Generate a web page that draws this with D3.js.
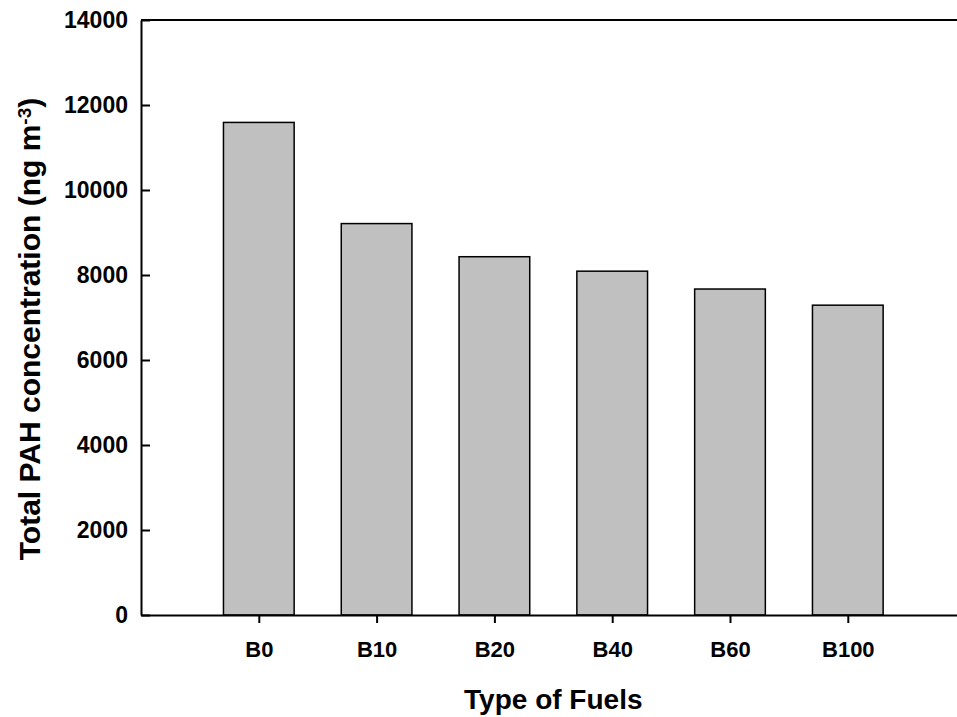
<!DOCTYPE html>
<html>
<head>
<meta charset="utf-8">
<script src="https://cdn.jsdelivr.net/npm/d3@7"></script>
<style>
  body { margin: 0; background: #fff; }
  svg { display: block; font-family: "Liberation Sans", Arial, sans-serif; font-weight: bold; }
  .axis path, .axis line { stroke: #000; stroke-width: 2; }
  .axis text { fill: #000; }
</style>
</head>
<body>
<div id="chart"></div>
<script>
// Fuel blends and total PAH (ng m-3)
const fuels = ['B0', 'B10', 'B20', 'B40', 'B60', 'B100'];
const pah = [11590, 9210, 8430, 8090, 7670, 7290];
const yTicks = [0, 2000, 4000, 6000, 8000, 10000, 12000, 14000];

function drawChart() {
    const W = 957, H = 717;
    const left = 141, top = 20, bottom = 615;

    const svg = d3.select('#chart')
        .append('svg')
        .attr('width', W)
        .attr('height', H);

    // bars sit at 1..6, axis runs 0..7 (right end runs off the page)
    const x = d3.scaleLinear()
        .domain([0, 7])
        .range([left, left + 7 * 117.8]);

    const y = d3.scaleLinear()
        .domain([0, 14000])
        .range([bottom, top]);

    const barW = 0.6;
    const rows = fuels.map((f, i) => ({ fuel: f, pos: i + 1, value: pah[i] }));

    svg.selectAll('.bar')
        .data(rows)
        .enter()
        .append('rect')
        .attr('class', 'bar')
        .attr('x', d => x(d.pos - barW / 2))
        .attr('width', d => x(d.pos + barW / 2) - x(d.pos - barW / 2))
        .attr('y', d => y(d.value))
        .attr('height', d => y(0) - y(d.value))
        .attr('fill', '#c0c0c0')
        .attr('stroke', '#000')
        .attr('stroke-width', 1.5);

    // top frame line
    svg.append('line')
        .attr('x1', left).attr('x2', W + 10)
        .attr('y1', top).attr('y2', top)
        .attr('stroke', '#000')
        .attr('stroke-width', 2);

    // y axis, ticks pointing inward
    svg.append('g')
        .attr('class', 'axis')
        .attr('transform', `translate(${left},0)`)
        .call(d3.axisLeft(y)
            .tickValues(yTicks)
            .tickSize(-9)
            .tickSizeOuter(0)
            .tickPadding(13)
            .tickFormat(d3.format('d')))
        .selectAll('text')
        .style('font-size', '23px');

    // x axis
    const xAxis = svg.append('g')
        .attr('class', 'axis')
        .attr('transform', `translate(0,${bottom})`)
        .call(d3.axisBottom(x)
            .tickValues(rows.map(d => d.pos))
            .tickSize(8)
            .tickSizeOuter(0)
            .tickPadding(18)
            .tickFormat((d, i) => fuels[i]));
    xAxis.selectAll('text').style('font-size', '22px');

    // axis titles
    svg.append('text')
        .attr('x', (left + x(7)) / 2)
        .attr('y', 709)
        .style('text-anchor', 'middle')
        .style('font-size', '28px')
        .text('Type of Fuels');

    const yt = svg.append('text')
        .attr('transform', 'translate(40,329) rotate(-90)')
        .style('text-anchor', 'middle')
        .style('font-size', '30px');
    yt.append('tspan').text('Total PAH concentration (ng m');
    yt.append('tspan').attr('dy', '-0.5em').style('font-size', '19px').text('-3');
    yt.append('tspan').attr('dy', '0.3em').text(')');
}

drawChart();
</script>
</body>
</html>
